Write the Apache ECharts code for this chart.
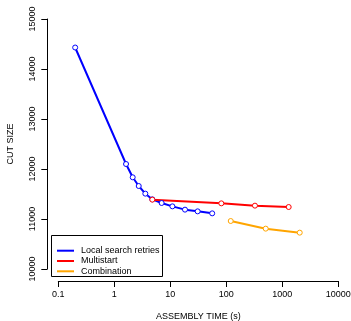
<!DOCTYPE html>
<html><head><meta charset="utf-8">
<script src="https://cdn.jsdelivr.net/npm/echarts@6/dist/echarts.min.js"></script>
<style>html,body{margin:0;padding:0;background:#fff}#c{width:351px;height:321px}</style>
</head><body><div id="c"></div>
<script>
const seriesNames = ["Local search retries", "Multistart", "Combination"];
const localTime = [0.2, 1.62, 2.13, 2.73, 3.58, 4.77, 7.0, 10.9, 18.3, 30.8, 56];
const localCut = [14430, 12100, 11834, 11660, 11507, 11393, 11320, 11253, 11187, 11153, 11113];
const multiTime = [4.77, 81.5, 325, 1300];
const multiCut = [11387, 11313, 11267, 11240];
const comboTime = [120, 506, 2048];
const comboCut = [10960, 10807, 10727];
const colors = ["#0000ff", "#ff0000", "#ffa500"];

function pairs(xs, ys){ return xs.map((x,i)=>[x, ys[i]]); }
const font = "Liberation Sans, Arial, sans-serif";
const chart = echarts.init(document.getElementById('c'), null, {renderer:'canvas'});
function mk(name, xs, ys, color){
  return {name, type:'line', data:pairs(xs, ys), color,
    lineStyle:{width:2, color}, symbol:'circle', symbolSize:5,
    itemStyle:{color:'#fff', borderColor:color, borderWidth:1}, emphasis:{disabled:true}, animation:false};
}
chart.setOption({
  animation:false,
  grid:{left:58.3, right:12.7, top:19, bottom:52, containLabel:false, outerBoundsMode:'none'},
  xAxis:{type:'log', logBase:10, min:0.1, max:10000, offset:12,
    name:'ASSEMBLY TIME (s)', nameLocation:'middle', nameGap:31,
    nameTextStyle:{fontFamily:font, fontSize:9, color:'#000'},
    axisLine:{show:true, lineStyle:{color:'#000', width:1}},
    axisTick:{show:true, length:6, lineStyle:{color:'#000'}},
    minorTick:{show:false}, splitLine:{show:false},
    axisLabel:{fontFamily:font, fontSize:9, color:'#000', margin:9,
      formatter:v=>String(+v.toPrecision(3))}},
  yAxis:{type:'value', min:10000, max:15000, interval:1000, offset:11,
    name:'CUT SIZE', nameLocation:'middle', nameGap:32, nameRotate:90,
    nameTextStyle:{fontFamily:font, fontSize:9, color:'#000'},
    axisLine:{show:true, lineStyle:{color:'#000', width:1}},
    axisTick:{show:true, length:6, lineStyle:{color:'#000'}},
    splitLine:{show:false},
    axisLabel:{fontFamily:font, fontSize:9, color:'#000', rotate:90, margin:10, align:'center', verticalAlign:'bottom',
      formatter:v=>String(v)}},
  legend:{orient:'vertical', left:52, top:240.7, itemWidth:17, itemHeight:2, itemGap:0.3,
    icon:'rect', selectedMode:false,
    textStyle:{fontFamily:font, fontSize:9, color:'#000', lineHeight:10, padding:[0,0,0,2]},
    data:seriesNames.map((n,i)=>({name:n, icon:'rect', itemStyle:{color:colors[i], borderWidth:0}}))},
  graphic:[{type:'rect', shape:{x:51.5, y:235.5, width:111, height:41}, style:{fill:'none', stroke:'#000', lineWidth:1}, z:100}],
  series:[mk(seriesNames[0], localTime, localCut, colors[0]),
          mk(seriesNames[1], multiTime, multiCut, colors[1]),
          mk(seriesNames[2], comboTime, comboCut, colors[2])]
});
</script></body></html>
